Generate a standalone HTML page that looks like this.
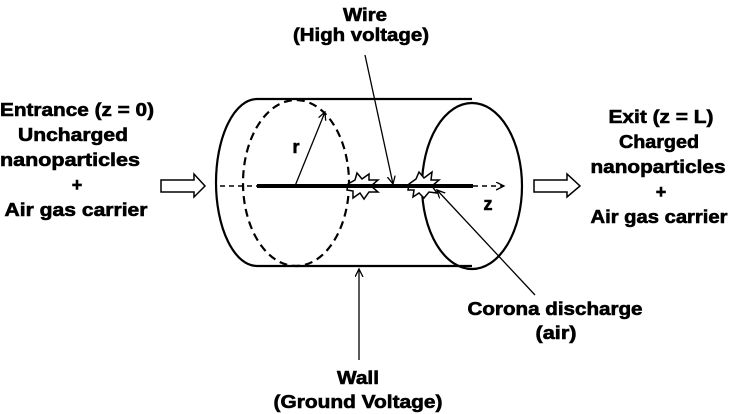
<!DOCTYPE html>
<html><head><style>body{margin:0;background:#fff}svg{display:block}</style></head>
<body>
<svg width="732" height="414" viewBox="0 0 732 414" xmlns="http://www.w3.org/2000/svg" font-family="Liberation Sans, sans-serif" font-weight="bold" font-size="18">
<defs>
<marker id="ah" markerWidth="10" markerHeight="10" refX="8" refY="4" orient="auto" markerUnits="userSpaceOnUse"><path d="M0,0 L8,4 L0,8" fill="none" stroke="#000" stroke-width="1.3"/></marker>
</defs>
<g fill="none" stroke="#000" stroke-width="2.2">
<path d="M257,99 L472,99 M257,266 L472,266"/>
<path d="M257,99 A41,83.5 0 0 0 257,266"/>
<ellipse cx="472" cy="186" rx="50" ry="83"/>
<ellipse cx="296" cy="183" rx="53" ry="83" stroke-dasharray="8,5"/>
</g>
<line x1="220" y1="186" x2="257" y2="186" stroke="#000" stroke-width="1.5" stroke-dasharray="5,4"/>
<polygon points="348,184 355,180 357,173 362,179 369,174 369,180 378,180 371,186 378,192 369,192 364,199 360,193 353,198 353,191 347,190" fill="#fff" stroke="#000" stroke-width="1.5"/>
<polygon points="409,184 416,179 419,172 424,178 432,172 431,180 439,180 432,186 437,193 429,192 424,198 419,193 413,197 414,190 408,190" fill="#fff" stroke="#000" stroke-width="1.5"/>
<line x1="257" y1="186" x2="473" y2="186" stroke="#000" stroke-width="4"/>
<line x1="473" y1="186" x2="504" y2="186" stroke="#000" stroke-width="1.5" stroke-dasharray="5,4" marker-end="url(#ah)"/>
<line x1="295" y1="186" x2="325" y2="112" stroke="#000" stroke-width="1.3" marker-end="url(#ah)"/>
<line x1="365" y1="55" x2="393" y2="184" stroke="#000" stroke-width="1.3" marker-end="url(#ah)"/>
<line x1="535" y1="295" x2="437" y2="190" stroke="#000" stroke-width="1.3" marker-end="url(#ah)"/>
<line x1="359" y1="360" x2="359" y2="269" stroke="#000" stroke-width="1.3" marker-end="url(#ah)"/>
<polygon points="161,180 194,180 194,174 205,186 194,197 194,192 161,192" fill="#fff" stroke="#000" stroke-width="1.5"/>
<polygon points="534,180 567,180 567,174 580,186 567,197 567,192 534,192" fill="#fff" stroke="#000" stroke-width="1.5"/>
<g text-anchor="middle" stroke="#000" stroke-width="0.6">
<text x="77" y="116" textLength="154" lengthAdjust="spacingAndGlyphs">Entrance (z = 0)</text>
<text x="73" y="141" textLength="110" lengthAdjust="spacingAndGlyphs">Uncharged</text>
<text x="70" y="166" textLength="140" lengthAdjust="spacingAndGlyphs">nanoparticles</text>
<text x="77" y="191">+</text>
<text x="76" y="216" textLength="143" lengthAdjust="spacingAndGlyphs">Air gas carrier</text>
<text x="661" y="123" textLength="105" lengthAdjust="spacingAndGlyphs">Exit (z = L)</text>
<text x="659" y="148" textLength="80" lengthAdjust="spacingAndGlyphs">Charged</text>
<text x="658" y="173" textLength="135" lengthAdjust="spacingAndGlyphs">nanoparticles</text>
<text x="661" y="198">+</text>
<text x="659" y="223" textLength="137" lengthAdjust="spacingAndGlyphs">Air gas carrier</text>
<text x="365" y="21" textLength="44" lengthAdjust="spacingAndGlyphs">Wire</text>
<text x="361" y="41" textLength="136" lengthAdjust="spacingAndGlyphs">(High voltage)</text>
<text x="555" y="315" textLength="175" lengthAdjust="spacingAndGlyphs">Corona discharge</text>
<text x="556" y="339" textLength="41" lengthAdjust="spacingAndGlyphs">(air)</text>
<text x="358" y="384" textLength="42" lengthAdjust="spacingAndGlyphs">Wall</text>
<text x="358" y="408" textLength="169" lengthAdjust="spacingAndGlyphs">(Ground Voltage)</text>
<text x="488" y="210">z</text>
<text x="296" y="153">r</text>
</g>
</svg>
</body></html>
